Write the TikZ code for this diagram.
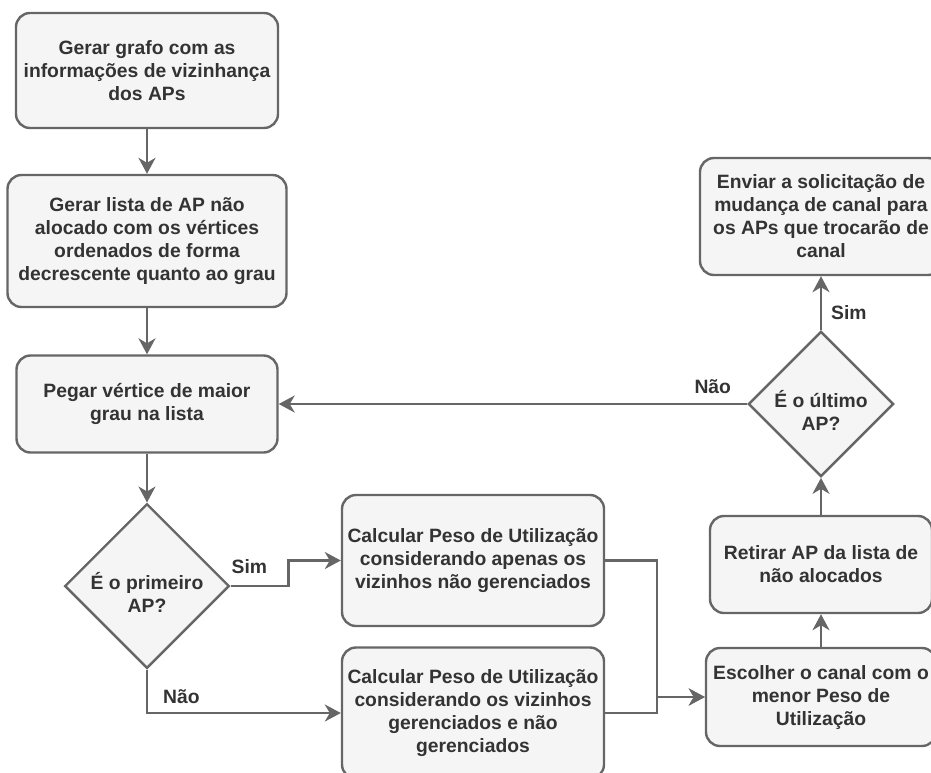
\documentclass[tikz,border=0pt]{standalone}
\usepackage{fontspec}
\setmainfont{Liberation Sans}
\usepackage{tikz}
\usetikzlibrary{arrows.meta,shapes.geometric,positioning}
\definecolor{stroke}{HTML}{666666}
\definecolor{fillbg}{HTML}{F5F5F5}
\definecolor{ink}{HTML}{333333}

\begin{document}
\begin{tikzpicture}[node distance=2cm, auto, font=\fontsize{19.3}{23}\selectfont\bfseries, text=ink]
        \tikzstyle{block} = [rectangle, draw=stroke, fill=fillbg, line width=2.4pt, align=center, rounded corners=14pt, inner sep=2pt]
        \tikzstyle{decision} = [diamond, aspect=1, draw=stroke, fill=fillbg, line width=2.4pt, align=center, inner sep=0pt]
        \tikzstyle{line} = [draw=stroke, line width=2.4pt, -{Stealth[length=16pt, width=17pt, inset=5pt]}]
        \tikzstyle{lbl} = [inner sep=0pt, text=ink]

        \useasboundingbox (0,0) rectangle (931pt,-772pt);

        % left column
        \node [block, minimum width=262pt, minimum height=115pt] at (147pt,-70.5pt) (gen) {Gerar grafo com as\\informações de vizinhança\\dos APs};
        \node [block, below of=gen, node distance=170.5pt, minimum width=279pt, minimum height=132pt] (lista) {Gerar lista de AP não\\alocado com os vértices\\ordenados de forma\\decrescente quanto ao grau};
        \node [block, below of=lista, node distance=163pt, minimum width=261pt, minimum height=97pt] (pegar) {Pegar vértice de maior\\grau na lista};
        \node [decision, below of=pegar, node distance=182pt, minimum width=164pt, minimum height=162pt, text height=52pt, text depth=-12pt] (prim) {É o primeiro\\AP?};

        % middle column
        \node [block, right of=prim, node distance=326pt, yshift=25.5pt, minimum width=262pt, minimum height=131pt] (calc1) {Calcular Peso de Utilização\\considerando apenas os\\vizinhos não gerenciados};
        \node [block, below of=calc1, node distance=152.5pt, minimum width=262pt, minimum height=131pt] (calc2) {Calcular Peso de Utilização\\considerando os vizinhos\\gerenciados e não\\gerenciados};

        % right column
        \node [block, right of=calc2, node distance=348pt, yshift=16pt, minimum width=230pt, minimum height=98pt] (escolher) {Escolher o canal com o\\menor Peso de\\Utilização};
        \node [block, above of=escolher, node distance=132.5pt, minimum width=222pt, minimum height=97pt] (retirar) {Retirar AP da lista de\\não alocados};
        \node [decision, above of=retirar, node distance=160.5pt, minimum width=145pt, minimum height=144pt, text height=52pt, text depth=-8pt] (ultimo) {É o último\\AP?};
        \node [block, above of=ultimo, node distance=187.5pt, minimum width=242pt, minimum height=117pt] (enviar) {Enviar a solicitação de\\mudança de canal para\\os APs que trocarão de\\canal};

        \path [line] (gen) -- (lista);
        \path [line] (lista) -- (pegar);
        \path [line] (pegar) -- (prim);
        \path [line] (prim.east) node [lbl, anchor=south west, yshift=11pt] {Sim} -- ++(58pt,0) |- (calc1.west);
        \path [line] (prim.south) |- node [lbl, pos=0.5, anchor=south west, xshift=15pt, yshift=8pt] {Não} (calc2.west);
        \path [line] (calc1.east) -- ++(52pt,0) |- (escolher.west);
        \path [line] (calc2.east) -- ++(52pt,0) |- (escolher.west);
        \path [line] (escolher) -- (retirar);
        \path [line] (retirar) -- (ultimo);
        \path [line] (ultimo.north) node [lbl, anchor=south west, xshift=9pt, yshift=9pt] {Sim} -- (enviar.south);
        \path [line] (ultimo.west) node [lbl, anchor=south east, xshift=-15pt, yshift=9pt] {Não} -- (pegar.east);
    \end{tikzpicture}
\end{document}
